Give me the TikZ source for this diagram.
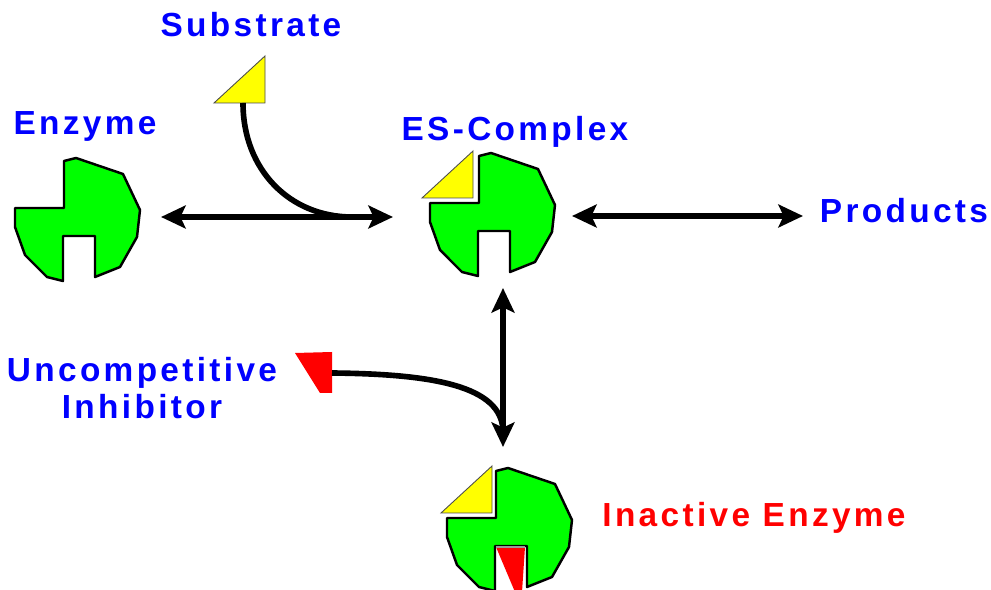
\documentclass[tikz,border=0pt]{standalone}
\usepackage{fontspec}
\newfontfamily\labelfont{Liberation Sans}[LetterSpace=10]
\usetikzlibrary{arrows.meta}

\definecolor{enzgreen}{RGB}{0,255,0}
\definecolor{subyellow}{RGB}{255,255,0}
\definecolor{labelblue}{RGB}{0,0,255}
\definecolor{inhred}{RGB}{255,0,0}

\tikzset{
  lbl/.style={font=\labelfont\bfseries\fontsize{19}{21.5}\selectfont, text=labelblue, inner sep=0pt},
  rxn/.style={line width=3.2pt, {Stealth[length=14pt,width=13pt,inset=3pt]}-{Stealth[length=14pt,width=13pt,inset=3pt]}},
  feed/.style={line width=3.2pt},
  % enzyme with the binding notch (top left) and the slot (bottom)
  enzyme/.pic={
    \draw[fill=enzgreen, line width=1.4pt, line join=round]
      (-14,-59) -- (-2,-62) -- (45,-46) -- (62,-10) -- (59,17) -- (42,47)
      -- (17,57) -- (17,16) -- (-15,16) -- (-15,61) -- (-31,57) -- (-53,35)
      -- (-63,7) -- (-63,-12) -- (-14,-12) -- cycle;
  },
  % substrate triangle, origin at its top corner
  substrate/.pic={
    \draw[fill=subyellow, draw=black!70, line width=0.5pt] (0,0) -- (0,47) -- (-51,47) -- cycle;
  }
}

\begin{document}
\begin{tikzpicture}[x=0.02cm, y=-0.02cm]
\useasboundingbox (0,0) rectangle (991,590);

% Enzymes
\pic (enz) at (78,220) {enzyme};
\pic (es) at (493,215) {enzyme};
\pic (ina) at (510,530) {enzyme};

% Substrates
\pic (sub) at (265,56) {substrate};
\pic (essub) at (473,151) {substrate};
\pic (inasub) at (492,466) {substrate};

% Inhibitor, free and bound in the slot
\fill[inhred] (295,353) -- (332,352) -- (332,393) -- (320,393) -- cycle;
\fill[inhred] (496,547) -- (525,547) -- (522,592) -- (515,592) -- cycle;
\draw[black!40, line width=0.8pt] (496,547) -- (525,547);

% Labels
\node[lbl, anchor=base] (lsub) at (251,37) {Substrate};
\node[lbl, anchor=base] (lenz) at (85,135) {Enzyme};
\node[lbl, anchor=base] (les) at (515,141) {ES-Complex};
\node[lbl, anchor=base] (lprod) at (904,223) {Products};
\node[lbl, anchor=base, align=center] (linh) at (142,419) {Uncompetitive\\Inhibitor};
\node[lbl, anchor=base, text=inhred] (lina) at (754,527) {Inactive Enzyme};

% Connector ends
\coordinate (enzR) at (161,217);
\coordinate (esL) at (393,217);
\coordinate (esR) at (572,216);
\coordinate (prodL) at (803,216);
\coordinate (esB) at (503,288);
\coordinate (inaT) at (503,447);
\coordinate (subtip) at (243,103);
\coordinate (subjoin) at (352,217);
\coordinate (inhtip) at (332,373);
\coordinate (inhjoin) at (503,432);

% Binding paths
\draw[feed] (subtip) .. controls (243,170) and (290,217) .. (subjoin);
\draw[feed] (inhtip) .. controls (430,374) and (503,385) .. (inhjoin);

% Equilibria
\draw[rxn] (enzR) -- (esL);
\draw[rxn] (esR) -- (prodL);
\draw[rxn] (esB) -- (inaT);

\end{tikzpicture}
\end{document}
